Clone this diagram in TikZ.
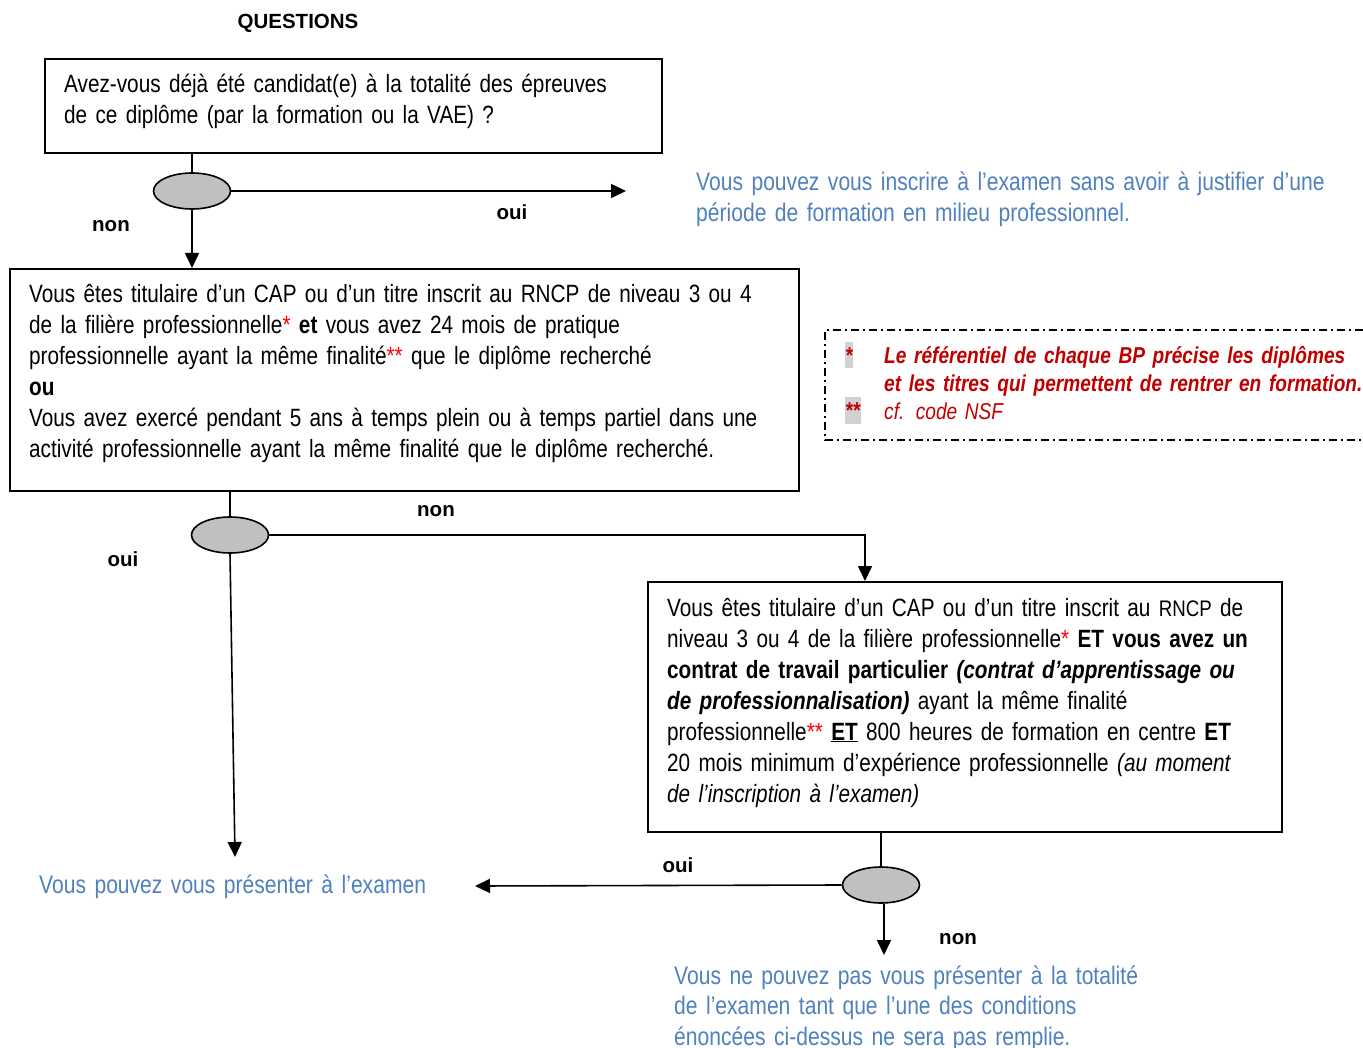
\documentclass[tikz,border=0pt]{standalone}
\usepackage{fontspec}
\setmainfont{Liberation Sans}[FakeStretch=0.83]
\newfontfamily\arialfont{Liberation Sans}
\usetikzlibrary{shapes.geometric,arrows.meta,calc}
\definecolor{bluetxt}{RGB}{79,129,189}
\definecolor{legred}{RGB}{192,0,0}
\definecolor{ellgray}{RGB}{192,192,192}
\definecolor{hlgray}{RGB}{210,210,210}
\newcommand{\rst}[1]{{\color{red}#1}}
\begin{document}
\begin{tikzpicture}[x=1pt,y=-1pt,
  box/.style={draw, line width=1.8pt, inner sep=0pt, anchor=north west},
  body/.style={anchor=base west, inner sep=0pt, align=left, text width=#1, font=\fontsize{25}{31}\selectfont},
  bluebody/.style={body=#1, text=bluetxt, font=\fontsize{25.4}{30.5}\selectfont},
  lab/.style={anchor=base, inner sep=0pt, font=\arialfont\bfseries\fontsize{20.5}{24}\selectfont},
  legfont/.style={font=\bfseries\itshape\fontsize{23}{28}\selectfont},
  dec/.style={ellipse, draw, line width=1.6pt, fill=ellgray, minimum width=77pt, minimum height=36pt, inner sep=0pt},
  conn/.style={line width=1.6pt},
  arr/.style={conn, -{Triangle[length=15pt,width=14pt]}},
  legend/.style={line width=1.4pt, dash pattern=on 8pt off 4pt on 2pt off 4pt}
]
\useasboundingbox (0,0) rectangle (1363,1048);

% title
\node[lab] (title) at (298,29) {QUESTIONS};

% box 1
\node[box, minimum width=617pt, minimum height=94pt] (box1) at (44,58) {};
\node[body=590pt] (t1) at (64,93) {Avez-vous déjà été candidat(e) à la totalité des épreuves\\de ce diplôme (par la formation ou la VAE) ?};

% decision 1
\node[dec] (e1) at (192,191) {};
\coordinate (c1) at (626,191);
\draw[conn] (box1.south -| e1) -- (e1.north);
\draw[arr] (e1.east) -- (c1);
\node[lab] (oui1) at (512,220) {oui};
\node[lab] (non1) at (111,232) {non};
\node[bluebody=660pt] (t2) at (696,191) {Vous pouvez vous inscrire à l’examen sans avoir à justifier d’une\\période de formation en milieu professionnel.};

% box 2
\node[box, minimum width=789pt, minimum height=222pt] (box2) at (9,268) {};
\draw[arr] (e1.south) -- (box2.north -| e1);
\node[body=775pt] (t3) at (29,303) {Vous êtes titulaire d’un CAP ou d’un titre inscrit au RNCP de niveau 3 ou 4\\de la filière professionnelle\rst{*} \textbf{et} vous avez 24 mois de pratique\\professionnelle ayant la même finalité\rst{**} que le diplôme recherché\\\textbf{ou}\\Vous avez exercé pendant 5 ans à temps plein ou à temps partiel dans une\\activité professionnelle ayant la même finalité que le diplôme recherché.};

% legend
\draw[legend] (1363,330) -- (825,330) -- (825,440) -- (1363,440);
\fill[hlgray] (845,342) rectangle (853,368);
\fill[hlgray] (845,397) rectangle (861,424);
\node[anchor=base west, inner sep=0pt, text=legred, legfont] (s1) at (845,364) {*};
\node[anchor=base west, inner sep=0pt, text=legred, legfont] (s2) at (845,419) {**};
\node[anchor=base west, inner sep=0pt, align=left, text width=530pt, text=legred, legfont] (leg) at (884,364) {Le référentiel de chaque BP précise les diplômes\\et les titres qui permettent de rentrer en formation.\\\mdseries cf. code NSF};

% decision 2
\node[dec] (e2) at (230,535) {};
\draw[conn] (box2.south -| e2) -- (e2.north);
\node[lab] (non2) at (436,516) {non};
\node[lab] (oui2) at (123,566) {oui};

% box 3
\node[box, minimum width=634pt, minimum height=250pt] (box3) at (647,581) {};
\coordinate (b3in) at (865,581);
\draw[arr] (e2.east) -| (b3in);
\node[body=610pt] (t4) at (667,616) {Vous êtes titulaire d’un CAP ou d’un titre inscrit au {\fontsize{22.5}{31}\selectfont RNCP} de\\niveau 3 ou 4 de la filière professionnelle\rst{*} \textbf{ET vous avez un}\\\textbf{contrat de travail particulier \textit{(contrat d’apprentissage ou}}\\\textbf{\textit{de professionnalisation)}} ayant la même finalité\\professionnelle\rst{**} \underline{\textbf{ET}} 800 heures de formation en centre \textbf{ET}\\20 mois minimum d’expérience professionnelle \textit{(au moment}\\\textit{de l’inscription à l’examen)}};

% left result
\coordinate (c2) at (235,857);
\draw[arr] (e2.south) -- (c2);
\node[bluebody=420pt] (t5) at (39,893) {Vous pouvez vous présenter à l’examen};

% decision 3
\node[dec] (e3) at (881,885) {};
\draw[conn] (box3.south -| e3) -- (e3.north);
\coordinate (c3) at (475,886);
\draw[arr] (e3.west) -- (c3);
\node[lab] (oui3) at (678,872) {oui};
\coordinate (c4) at (884,955);
\draw[arr] (e3.south -| c4) -- (c4);
\node[lab] (non3) at (958,944) {non};
\node[bluebody=500pt] (t6) at (674,984) {Vous ne pouvez pas vous présenter à la totalité\\de l’examen tant que l’une des conditions\\énoncées ci-dessus ne sera pas remplie.};
\end{tikzpicture}
\end{document}
